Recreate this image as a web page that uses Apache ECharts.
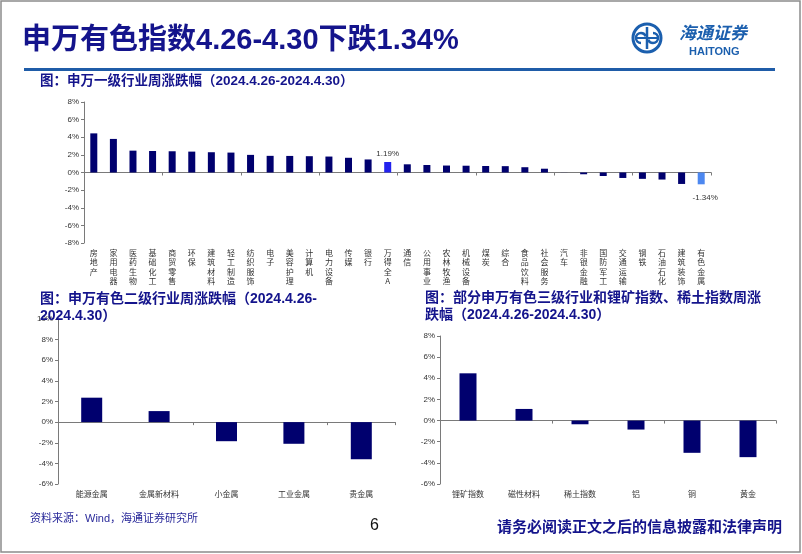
<!DOCTYPE html>
<html><head><meta charset="utf-8">
<script src="https://cdn.jsdelivr.net/npm/echarts@6/dist/echarts.min.js"></script>
<style>html,body{margin:0;padding:0;background:#fff}#c{width:802px;height:554px}</style>
</head><body><div id="c"></div>
<script>
// ---- data ----
const industryCats = ['房地产','家用电器','医药生物','基础化工','商贸零售','环保','建筑材料','轻工制造','纺织服饰','电子','美容护理','计算机','电力设备','传媒','银行','万得全A','通信','公用事业','农林牧渔','机械设备','煤炭','综合','食品饮料','社会服务','汽车','非银金融','国防军工','交通运输','钢铁','石油石化','建筑装饰','有色金属'];
const industryVals = [4.44,3.81,2.48,2.44,2.41,2.37,2.30,2.26,2.00,1.89,1.88,1.85,1.81,1.67,1.48,1.19,0.93,0.85,0.79,0.77,0.74,0.72,0.60,0.43,0.01,-0.20,-0.40,-0.62,-0.72,-0.80,-1.30,-1.34];
const level2Cats = ['能源金属','金属新材料','小金属','工业金属','贵金属'];
const level2Vals = [2.37,1.07,-1.85,-2.10,-3.60];
const level3Cats = ['锂矿指数','磁性材料','稀土指数','铝','铜','黄金'];
const level3Vals = [4.47,1.10,-0.35,-0.85,-3.05,-3.46];
const topTicks = {min:-8,max:8,interval:2};
const blTicks = {min:-6,max:10,interval:2};
const brTicks = {min:-6,max:8,interval:2};

const NAVY = '#00006e';
const HL_ALL = '#2222ee';
const HL_NF = '#4d88f0';
const TXT = '#14148c';
const LAT = 'Liberation Sans, Noto Sans CJK SC, sans-serif';
const CJK = 'Noto Sans CJK SC, sans-serif';

const chart = echarts.init(document.getElementById('c'), null, {renderer:'canvas'});

function yAx(gi, t){
  return {type:'value', gridIndex:gi, min:t.min, max:t.max, interval:t.interval,
    axisLine:{show:true, lineStyle:{color:'#7a7a7a', width:1}},
    axisTick:{show:true, length:3, lineStyle:{color:'#7a7a7a'}},
    splitLine:{show:false},
    axisLabel:{formatter:'{value}%', fontSize:8, color:'#333', fontFamily:LAT, margin:5}};
}
function xLabelAx(gi, cats, opts){
  return Object.assign({type:'category', gridIndex:gi, data:cats, position:'bottom',
    axisLine:{show:false, onZero:false}, axisTick:{show:false},
    axisLabel:{fontSize:8, color:'#333', fontFamily:CJK, margin:6, interval:0}}, opts||{});
}
function xLineAx(gi, cats){
  return {type:'category', gridIndex:gi, data:cats, position:'top',
    axisLine:{show:true, onZero:true, lineStyle:{color:'#7a7a7a', width:1}},
    axisTick:{show:true, inside:true, length:3, lineStyle:{color:'#7a7a7a'}},
    axisLabel:{show:false}};
}

const option = {
  animation:false,
  backgroundColor:'#fff',
  grid:[
    {left:84, top:102, width:627, height:141},
    {left:58, top:319, width:337, height:165},
    {left:440, top:336, width:336, height:148}
  ],
  xAxis:[
    xLabelAx(0, industryCats, {axisLabel:{fontSize:8, color:'#333', fontFamily:CJK, margin:5, interval:0, lineHeight:9.5,
      formatter: v => v.split('').join('\n')}}),
    xLineAx(0, industryCats),
    xLabelAx(1, level2Cats),
    xLineAx(1, level2Cats),
    xLabelAx(2, level3Cats),
    xLineAx(2, level3Cats)
  ],
  yAxis:[yAx(0, topTicks), yAx(1, blTicks), yAx(2, brTicks)],
  series:[
    {type:'bar', xAxisIndex:0, yAxisIndex:0, barWidth:7,
      data: industryVals.map((v,i)=>{
        const c = industryCats[i];
        if (c==='万得全A') return {value:v, itemStyle:{color:HL_ALL},
          label:{show:true, position:'top', distance:4, formatter:v.toFixed(2)+'%', fontSize:8, color:'#333', fontFamily:LAT}};
        if (c==='有色金属') return {value:v, itemStyle:{color:HL_NF},
          label:{show:true, position:'bottom', distance:9, offset:[4,0], formatter:v.toFixed(2)+'%', fontSize:8, color:'#333', fontFamily:LAT}};
        return {value:v};
      }),
      itemStyle:{color:NAVY}},
    {type:'bar', xAxisIndex:2, yAxisIndex:1, barWidth:21, data:level2Vals, itemStyle:{color:NAVY}},
    {type:'bar', xAxisIndex:4, yAxisIndex:2, barWidth:17, data:level3Vals, itemStyle:{color:NAVY}}
  ],
  graphic:[
    {type:'rect', shape:{x:1, y:1, width:799, height:551}, style:{fill:null, stroke:'#8c8c8c', lineWidth:1.5}, silent:true},
    {type:'text', left:22, top:26, style:{text:'申万有色指数4.26-4.30下跌1.34%', font:'bold 29px '+LAT, fill:TXT}},
    {type:'rect', shape:{x:24, y:68, width:751, height:3}, style:{fill:'#1f5ca8'}},
    // logo
    {type:'circle', shape:{cx:647, cy:38, r:14}, style:{fill:null, stroke:'#1b5fae', lineWidth:3}},
    {type:'arc', shape:{cx:641, cy:38, r:5, startAngle:Math.PI*0.5, endAngle:Math.PI*1.9}, style:{fill:null, stroke:'#1b5fae', lineWidth:2.5}},
    {type:'arc', shape:{cx:653, cy:38, r:5, startAngle:Math.PI*1.5, endAngle:Math.PI*0.9}, style:{fill:null, stroke:'#1b5fae', lineWidth:2.5}},
    {type:'line', shape:{x1:647, y1:27, x2:647, y2:49}, style:{stroke:'#1b5fae', lineWidth:2.5}},
    {type:'line', shape:{x1:636, y1:38, x2:658, y2:38}, style:{stroke:'#1b5fae', lineWidth:2}},
    {type:'text', left:679, top:24, style:{text:'海通证券', font:'italic bold 17px '+CJK, fill:'#1b5fae'}},
    {type:'text', left:689, top:46, style:{text:'HAITONG', font:'bold 11px '+LAT, fill:'#1b5fae'}},
    // chart titles
    {type:'text', left:40, top:75, style:{text:'图：申万一级行业周涨跌幅（2024.4.26-2024.4.30）', font:'bold 13.5px '+LAT, fill:TXT}},
    {type:'text', left:40, top:291, z:100, style:{text:'图：申万有色二级行业周涨跌幅（2024.4.26-\n2024.4.30）', font:'bold 14px '+LAT, lineHeight:17, fill:TXT}},
    {type:'text', left:425, top:290, style:{text:'图：部分申万有色三级行业和锂矿指数、稀土指数周涨\n跌幅（2024.4.26-2024.4.30）', font:'bold 14px '+LAT, lineHeight:17, fill:TXT}},
    // footer
    {type:'text', left:30, top:513, style:{text:'资料来源：Wind，海通证券研究所', font:'11px '+LAT, fill:'#2a2a9a'}},
    {type:'text', left:370, top:518, style:{text:'6', font:'16px '+LAT, fill:'#111'}},
    {type:'text', right:20, top:519, style:{text:'请务必阅读正文之后的信息披露和法律声明', font:'bold 15px '+CJK, fill:TXT}}
  ]
};
chart.setOption(option);
</script>
</body></html>
